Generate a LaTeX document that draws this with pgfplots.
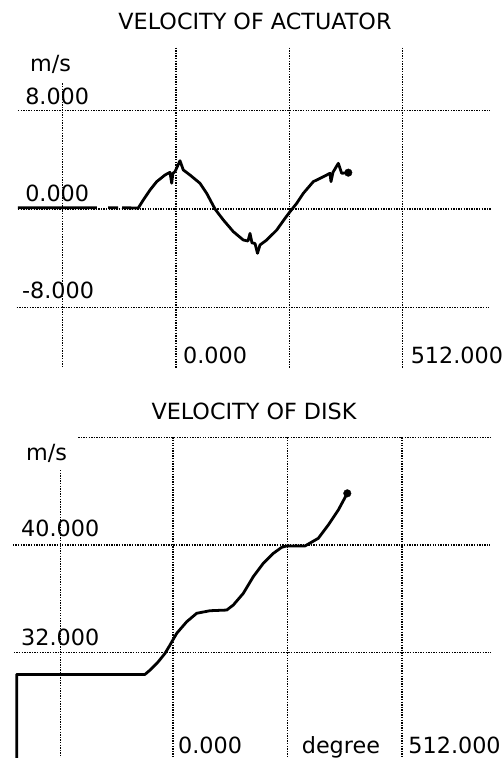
\documentclass[border=0pt]{standalone}
\usepackage{pgfplots}
\pgfplotsset{compat=1.18}
\usepackage{fontspec}
\setmainfont{DejaVu Sans}
\tikzset{gl/.style={line width=1.5pt, dash pattern=on 1.4pt off 1.2pt, black}}
\begin{document}
\fontsize{22.3bp}{26bp}\selectfont
\begin{tikzpicture}
\useasboundingbox (0bp,0bp) rectangle (504bp,758bp);
\clip (0bp,0bp) rectangle (504bp,758bp);
\node[anchor=base, inner sep=0] at (255bp,728bp) {VELOCITY OF ACTUATOR};
\node[anchor=base, inner sep=0] at (254bp,338bp) {VELOCITY OF DISK};
% ---------------- top panel ----------------
\begin{axis}[at={(16.66bp,388.94bp)}, anchor=south west, scale only axis,
  width=473.58bp, height=321.36bp, xmin=-360, xmax=710, ymin=-13, ymax=13.1,
  axis lines=none, clip=false, unbounded coords=jump]
\draw[gl] (axis cs:-357,8) -- (axis cs:709,8);
\draw[gl] (axis cs:-357,0) -- (axis cs:712,0);
\draw[gl] (axis cs:-360,-8) -- (axis cs:706,-8);
\draw[gl] (axis cs:-256,10.2) -- (axis cs:-256,-12.9);
\draw[gl] (axis cs:0,13.1) -- (axis cs:0,-12.9);
\draw[gl] (axis cs:256,13.1) -- (axis cs:256,-12.9);
\draw[gl] (axis cs:512,13.1) -- (axis cs:512,-12.9);
\addplot[black, line width=2.8pt, line join=round] coordinates {
(-357,0.1) (-178.5,0.1) (-178,nan) (-153.6,0.1) (-131,0.1) (-130,nan)
(-122,0.1) (-85.2,0.08) (-73.9,0.73) (-58.7,1.54) (-43.6,2.22) (-24.9,2.76)
(-13.6,2.98) (-9.7,2.09) (-7,2.9) (-2.3,3.03) (9.0,3.92) (16.5,3.17) (31.6,2.76)
(54.2,2.09) (69.4,1.27) (88.1,0) (106.9,-0.89) (129.5,-1.84) (152.1,-2.52)
(162.7,-2.6) (167.2,-1.98) (171.7,-2.75) (178.5,-2.8) (184.1,-3.6) (189.8,-2.92)
(204.9,-2.52) (227.5,-1.71) (246.3,-0.76) (257.6,-0.22) (272.7,0.46)
(287.6,1.27) (310.2,2.22) (332.8,2.62) (347.9,2.90) (350.2,2.22) (354.7,2.98)
(366.7,3.71) (374.4,2.90) (389.3,2.95)
};
\addplot[black, only marks, mark=*, mark size=3.8pt] coordinates {(389.3,2.95)};
\node[anchor=base west, inner sep=0] at (axis cs:-330,11.15) {m/s};
\node[anchor=base west, inner sep=0] at (axis cs:-341,8.45) {8.000};
\node[anchor=base west, inner sep=0] at (axis cs:-341,0.59) {0.000};
\node[anchor=base west, inner sep=0] at (axis cs:-348,-7.31) {-8.000};
\node[anchor=base west, inner sep=0] at (axis cs:15.8,-12.54) {0.000};
\node[anchor=base west, inner sep=0] at (axis cs:530,-12.54) {512.000};
\end{axis}
% ---------------- bottom panel ----------------
\begin{axis}[at={(11.98bp,0bp)}, anchor=south west, scale only axis,
  width=480.8bp, height=327.4bp, xmin=-360, xmax=715, ymin=24.18, ymax=48.5,
  axis lines=none, clip=false]
\draw[gl] (axis cs:-212,48) -- (axis cs:713,48);
\draw[gl] (axis cs:-358,40) -- (axis cs:709,40);
\draw[gl] (axis cs:-356,32) -- (axis cs:711,32);
\draw[gl] (axis cs:-252,45.57) -- (axis cs:-252,24.18);
\draw[gl] (axis cs:0,48) -- (axis cs:0,24.18);
\draw[gl] (axis cs:256,48) -- (axis cs:256,24.18);
\draw[gl] (axis cs:512,48) -- (axis cs:512,24.18);
\addplot[black, line width=2.8pt, line join=round] coordinates {
(-349.5,24.0) (-349.5,30.39) (-62.6,30.39) (-51.4,30.71) (-32.9,31.33)
(-17.9,31.95) (-6.7,32.57) (8.3,33.44) (30.6,34.30) (53.0,34.93) (82.7,35.12)
(120.1,35.17) (134.8,35.54) (157.2,36.41) (179.5,37.65) (201.9,38.64)
(224.3,39.38) (243.0,39.83) (254.2,39.93) (295.1,39.93) (324.9,40.50)
(347.2,41.49) (369.6,42.60) (389.7,43.84)
};
\addplot[black, only marks, mark=*, mark size=3.8pt] coordinates {(389.7,43.84)};
\node[anchor=base west, inner sep=0] at (axis cs:-328.7,46.31) {m/s};
\node[anchor=base west, inner sep=0] at (axis cs:-339.8,40.62) {40.000};
\node[anchor=base west, inner sep=0] at (axis cs:-339.8,32.52) {32.000};
\node[anchor=base west, inner sep=0] at (axis cs:11.2,24.53) {0.000};
\node[anchor=base west, inner sep=0] at (axis cs:287.7,24.53) {degree};
\node[anchor=base west, inner sep=0] at (axis cs:526.1,24.53) {512.000};
\end{axis}
\end{tikzpicture}
\end{document}
